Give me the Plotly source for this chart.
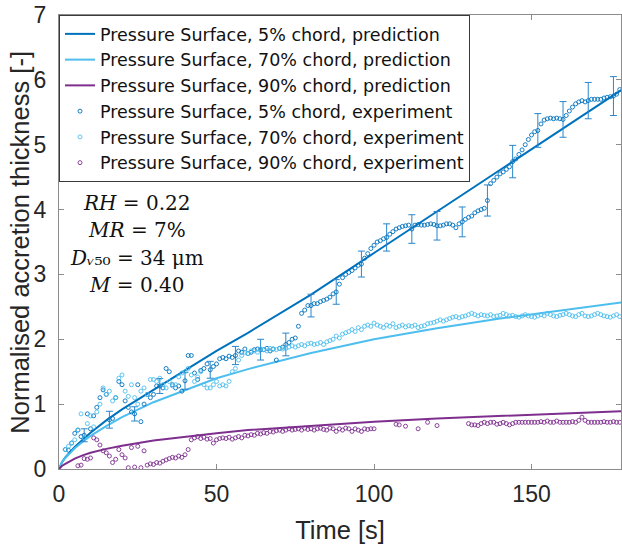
import plotly.graph_objects as go

# ---------------- data ----------------
t_pred = [0, 0.5, 1, 2, 3.5, 5, 7.5, 10, 15, 20, 30, 40, 50, 60, 80, 100, 120, 140, 160, 178.7]
pred_5 = [0, 0.06, 0.11, 0.18, 0.26, 0.34, 0.45, 0.56, 0.75, 0.92, 1.22, 1.52, 1.82, 2.10, 2.69, 3.33, 3.97, 4.61, 5.25, 5.85]
pred_70 = [0, 0.07, 0.11, 0.17, 0.25, 0.32, 0.42, 0.51, 0.66, 0.80, 1.03, 1.22, 1.40, 1.54, 1.79, 2.00, 2.17, 2.32, 2.45, 2.57]
pred_90 = [0, 0.03, 0.05, 0.08, 0.12, 0.16, 0.21, 0.25, 0.31, 0.36, 0.44, 0.50, 0.55, 0.60, 0.67, 0.73, 0.78, 0.82, 0.86, 0.89]

t_exp = list(range(2, 179))
exp_5 = [
    0.30, 0.29, 0.40, 0.55, 0.60, 0.50, 0.52, 0.85, 0.62, 0.82,
    0.95, 1.10, 1.22, 1.15, 0.76, 0.78, 1.10, 1.35, 1.30, 1.05,
    0.95, 0.88, 0.85, 1.30, 0.73, 1.00, 1.15, 1.10, 1.15, 1.28,
    1.28, 1.25, 1.55, 1.50, 1.30, 1.25, 1.28, 1.20, 1.36, 1.75,
    1.75, 1.48, 1.38, 1.52, 1.55, 1.62, 1.53, 1.58, 1.62, 1.70,
    1.72, 1.70, 1.74, 1.72, 1.75, 1.82, 1.80, 1.85, 1.78, 1.80,
    1.84, 1.85, 1.84, 1.84, 1.86, 1.82, 1.85, 1.68, 1.86, 1.88,
    1.92, 1.95, 2.00, 2.02, 2.20, 2.40, 2.45, 2.52, 2.52, 2.55,
    2.55, 2.58, 2.60, 2.62, 2.65, 2.70, 2.73, 2.85, 2.95, 3.00,
    3.03, 3.06, 3.10, 3.14, 3.16, 3.25, 3.32, 3.40, 3.45, 3.50,
    3.52, 3.55, 3.57, 3.62, 3.66, 3.70, 3.72, 3.74, 3.75, 3.76,
    3.70, 3.76, 3.77, 3.76, 3.76, 3.77, 3.78, 3.77, 3.75, 3.75,
    3.76, 3.78, 3.78, 3.76, 3.72, 3.78, 3.81, 3.85, 3.88, 3.90,
    3.95, 3.98, 4.00, 4.02, 4.14, 4.40, 4.45, 4.50, 4.55, 4.58,
    4.62, 4.66, 4.74, 4.78, 4.85, 4.92, 5.00, 5.08, 5.15, 5.20,
    5.22, 5.32, 5.38, 5.40, 5.41, 5.40, 5.41, 5.40, 5.39, 5.45,
    5.52, 5.58, 5.63, 5.66, 5.68, 5.66, 5.68, 5.70, 5.70, 5.70,
    5.70, 5.72, 5.73, 5.74, 5.75, 5.78, 5.85,
]
exp_70 = [
    0.30, 0.35, 0.40, 0.45, 0.60, 0.85, 0.48, 0.70, 0.82, 0.65,
    0.88, 1.00, 1.25, 1.15, 1.20, 1.05, 1.10, 1.40, 1.45, 1.20,
    1.12, 1.30, 1.10, 1.00, 1.20, 1.25, 1.15, 1.38, 1.38, 1.35,
    1.40, 1.30, 1.25, 1.35, 1.28, 1.30, 1.42, 1.48, 1.50, 1.55,
    1.45, 1.35, 1.42, 1.50, 1.30, 1.25, 1.25, 1.30, 1.35, 1.28,
    1.30, 1.28, 1.35, 1.50, 1.55, 1.68, 1.75, 1.80, 1.78, 1.82,
    1.82, 1.80, 1.85, 1.84, 1.82, 1.86, 1.85, 1.84, 1.86, 1.85,
    1.86, 1.88, 1.90, 1.88, 1.90, 1.92, 1.90, 1.93, 1.94, 1.92,
    1.93, 1.95, 1.92, 1.96, 1.98, 2.00, 2.05, 2.02, 2.08, 2.10,
    2.12, 2.15, 2.12, 2.18, 2.15, 2.20, 2.22, 2.20, 2.25, 2.22,
    2.20, 2.18, 2.22, 2.20, 2.24, 2.18, 2.20, 2.22, 2.19, 2.21,
    2.20, 2.22, 2.18, 2.20, 2.21, 2.24, 2.25, 2.26, 2.28, 2.30,
    2.28, 2.30, 2.32, 2.34, 2.35, 2.33, 2.35, 2.36, 2.38, 2.40,
    2.38, 2.36, 2.38, 2.37, 2.36, 2.38, 2.35, 2.36, 2.37, 2.40,
    2.38, 2.36, 2.37, 2.35, 2.34, 2.36, 2.38, 2.36, 2.35, 2.34,
    2.36, 2.38, 2.36, 2.40, 2.38, 2.36, 2.35, 2.37, 2.38, 2.40,
    2.38, 2.36, 2.35, 2.38, 2.40, 2.36, 2.35, 2.36, 2.38, 2.40,
    2.38, 2.36, 2.35, 2.34, 2.36, 2.38, 2.35,
]
exp_90 = [
    None, None, None, None, 0.05, 0.06, 0.16, 0.15, 0.17, 0.48,
    0.45, 0.37, 0.28, 0.25, 0.20, 0.10, 0.15, 0.30, 0.22, 0.17,
    0.02, 0.33, 0.03, 0.35, 0.02, 0.28, 0.06, 0.08, 0.07, 0.10,
    0.09, 0.12, 0.14, 0.16, 0.18, 0.17, 0.20, 0.18, 0.22, 0.30,
    0.45, 0.48, 0.50, 0.47, 0.49, 0.46, 0.47, 0.40, 0.45, 0.47,
    0.48, 0.47, 0.49, 0.46, 0.48, 0.50, 0.48, 0.52, 0.51, 0.53,
    0.52, 0.55, 0.54, 0.56, 0.55, 0.58, 0.57, 0.59, 0.60, 0.58,
    0.60, 0.62, 0.60, 0.61, 0.62, 0.60, 0.63, 0.61, 0.62, 0.60,
    0.62, 0.63, 0.61, 0.60, 0.63, 0.62, 0.58, 0.62, 0.60, 0.63,
    0.62, 0.58, 0.62, 0.60, 0.58, 0.62, 0.61, 0.62, 0.62, None,
    None, None, None, None, None, 0.69, 0.68, None, 0.66, None,
    None, None, 0.62, None, None, 0.72, None, None, 0.67, None,
    None, None, None, None, None, None, None, None, 0.70, 0.68,
    0.68, 0.67, 0.70, 0.72, 0.70, 0.72, 0.72, 0.69, 0.70, 0.72,
    0.70, 0.68, 0.70, 0.72, 0.72, 0.72, 0.72, 0.72, 0.72, 0.72,
    0.72, 0.73, 0.72, 0.74, 0.72, 0.72, 0.74, 0.72, 0.72, 0.72,
    0.72, 0.73, 0.72, 0.75, 0.80, 0.75, 0.72, 0.72, 0.72, 0.72,
    0.72, 0.73, 0.72, 0.72, 0.73, 0.72, 0.72,
]

t_err = list(range(8, 177, 8))
err_5 = [0.10, 0.13, 0.11, 0.115, 0.13, 0.13, 0.14, 0.16, 0.175, 0.175, 0.19,
         0.20, 0.21, 0.22, 0.22, 0.23, 0.24, 0.25, 0.26, 0.275, 0.28, 0.30]

names_pred = ["Pressure Surface, 5% chord, prediction",
              "Pressure Surface, 70% chord, prediction",
              "Pressure Surface, 90% chord, prediction"]
names_exp = ["Pressure Surface, 5% chord, experiment",
             "Pressure Surface, 70% chord, experiment",
             "Pressure Surface, 90% chord, experiment"]
annot_lines = ["<i>RH</i> = 0.22", "<i>MR</i> = 7%",
               "<i>D</i><i>ᵥ</i>₅₀ = 34 μm", "<i>M</i> = 0.40"]
annot_y = [4.10, 3.68, 3.25, 2.83]

x_ticks = [0, 50, 100, 150]
y_ticks = [0, 1, 2, 3, 4, 5, 6, 7]
x_title = "Time [s]"
y_title = "Normalised accretion thickness [-]"

# ---------------- styling ----------------
C5, C70, C90 = "#0072BD", "#4DBEEE", "#7E2F8E"
colors = [C5, C70, C90]
AX = "#8c8c8c"
TXT = "#262626"

fig = go.Figure()
for name, ys, c in zip(names_pred, [pred_5, pred_70, pred_90], colors):
    fig.add_trace(go.Scatter(x=t_pred, y=ys, mode="lines", name=name,
                             line=dict(color=c, width=2)))

err_centres = [exp_5[t_exp.index(t)] for t in t_err]
fig.add_trace(go.Scatter(x=t_err, y=err_centres, mode="markers", showlegend=False,
                         marker=dict(size=1, opacity=0, color=C5),
                         error_y=dict(type="data", array=err_5, color="#2a86cc",
                                      thickness=1, width=3.5)))

for name, ys, c in zip(names_exp, [exp_5, exp_70, exp_90], colors):
    fig.add_trace(go.Scatter(x=t_exp, y=ys, mode="markers", name=name,
                             marker=dict(symbol="circle-open", size=4, color=c,
                                         line=dict(width=0.9, color=c))))

for txt, yy in zip(annot_lines, annot_y):
    fig.add_annotation(x=24.75, y=yy, xref="x", yref="y", text=txt, showarrow=False,
                       xanchor="center", yanchor="middle",
                       font=dict(family="DejaVu Serif, Liberation Serif, serif", size=20, color="#111"))

fig.add_annotation(x=-0.07, y=0.5, xref="paper", yref="paper", text=y_title,
                   showarrow=False, textangle=-90, xanchor="center", yanchor="middle",
                   font=dict(size=25.5, color=TXT))

axis_common = dict(showgrid=False, zeroline=False, showline=True, linecolor=AX, linewidth=1.3,
                   mirror="allticks", ticks="inside", ticklen=5, tickcolor=AX, tickwidth=1,
                   tickfont=dict(size=23, color=TXT), automargin=False)

fig.update_layout(
    width=622, height=544,
    margin=dict(l=59, r=1, t=15, b=75),
    paper_bgcolor="white", plot_bgcolor="white",
    font=dict(family="Liberation Sans, Arial, sans-serif", color=TXT),
    xaxis=dict(range=[0, 178.4], tickvals=x_ticks, ticklabelstandoff=4,
               title=dict(text=x_title, font=dict(size=25.5, color=TXT), standoff=22),
               **axis_common),
    yaxis=dict(range=[0, 7], tickvals=y_ticks, ticklabelstandoff=7, **axis_common),
    legend=dict(x=0, y=1, xanchor="left", yanchor="top", bgcolor="white",
                bordercolor="#3a3a3a", borderwidth=1,
                font=dict(family="DejaVu Sans, Liberation Sans, sans-serif", size=17.5, color="#111"),
                tracegroupgap=0, itemwidth=30),
    showlegend=True,
)

fig.write_html("out.html")
